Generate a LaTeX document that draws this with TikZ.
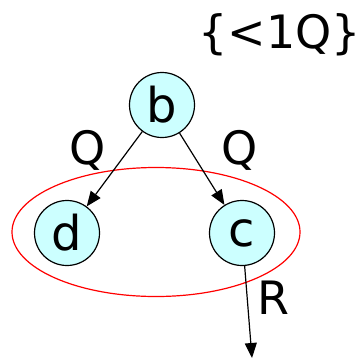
\documentclass[tikz,border=0pt]{standalone}
\usepackage{fontspec}
\setmainfont{DejaVu Sans}
\usetikzlibrary{arrows.meta,shapes.geometric}
\definecolor{nodefill}{RGB}{204,255,255}
\begin{document}
\begin{tikzpicture}[x=1pt,y=-1pt,
  vert/.style={circle,draw=black,line width=1.2pt,fill=nodefill,minimum size=65pt,inner sep=0pt,font=\fontsize{48}{48}\selectfont},
  lbl/.style={font=\fontsize{46}{46}\selectfont,inner sep=0pt},
  edge/.style={line width=1.2pt,-{Triangle[length=15pt,width=12pt]}}]
\useasboundingbox (0,0) rectangle (363,359);
\node[vert] (b) at (162,105) {b};
\node[vert] (d) at (67,233) {d};
\node[vert] (c) at (242,233) {c};
\node[draw=red,line width=1.2pt,ellipse,minimum width=288pt,minimum height=129pt,inner sep=0pt] (e) at (156,232) {};
\coordinate (end) at (252,358);
\draw[edge] (b) -- (d);
\draw[edge] (b) -- (c);
\draw[edge] (c) -- (end);
\node[lbl] (q1) at (88,150) {Q};
\node[lbl] (q2) at (240,150) {Q};
\node[lbl] (r) at (273,298) {R};
\node[lbl] (t) at (280,35) {\{<1Q\}};
\end{tikzpicture}
\end{document}
